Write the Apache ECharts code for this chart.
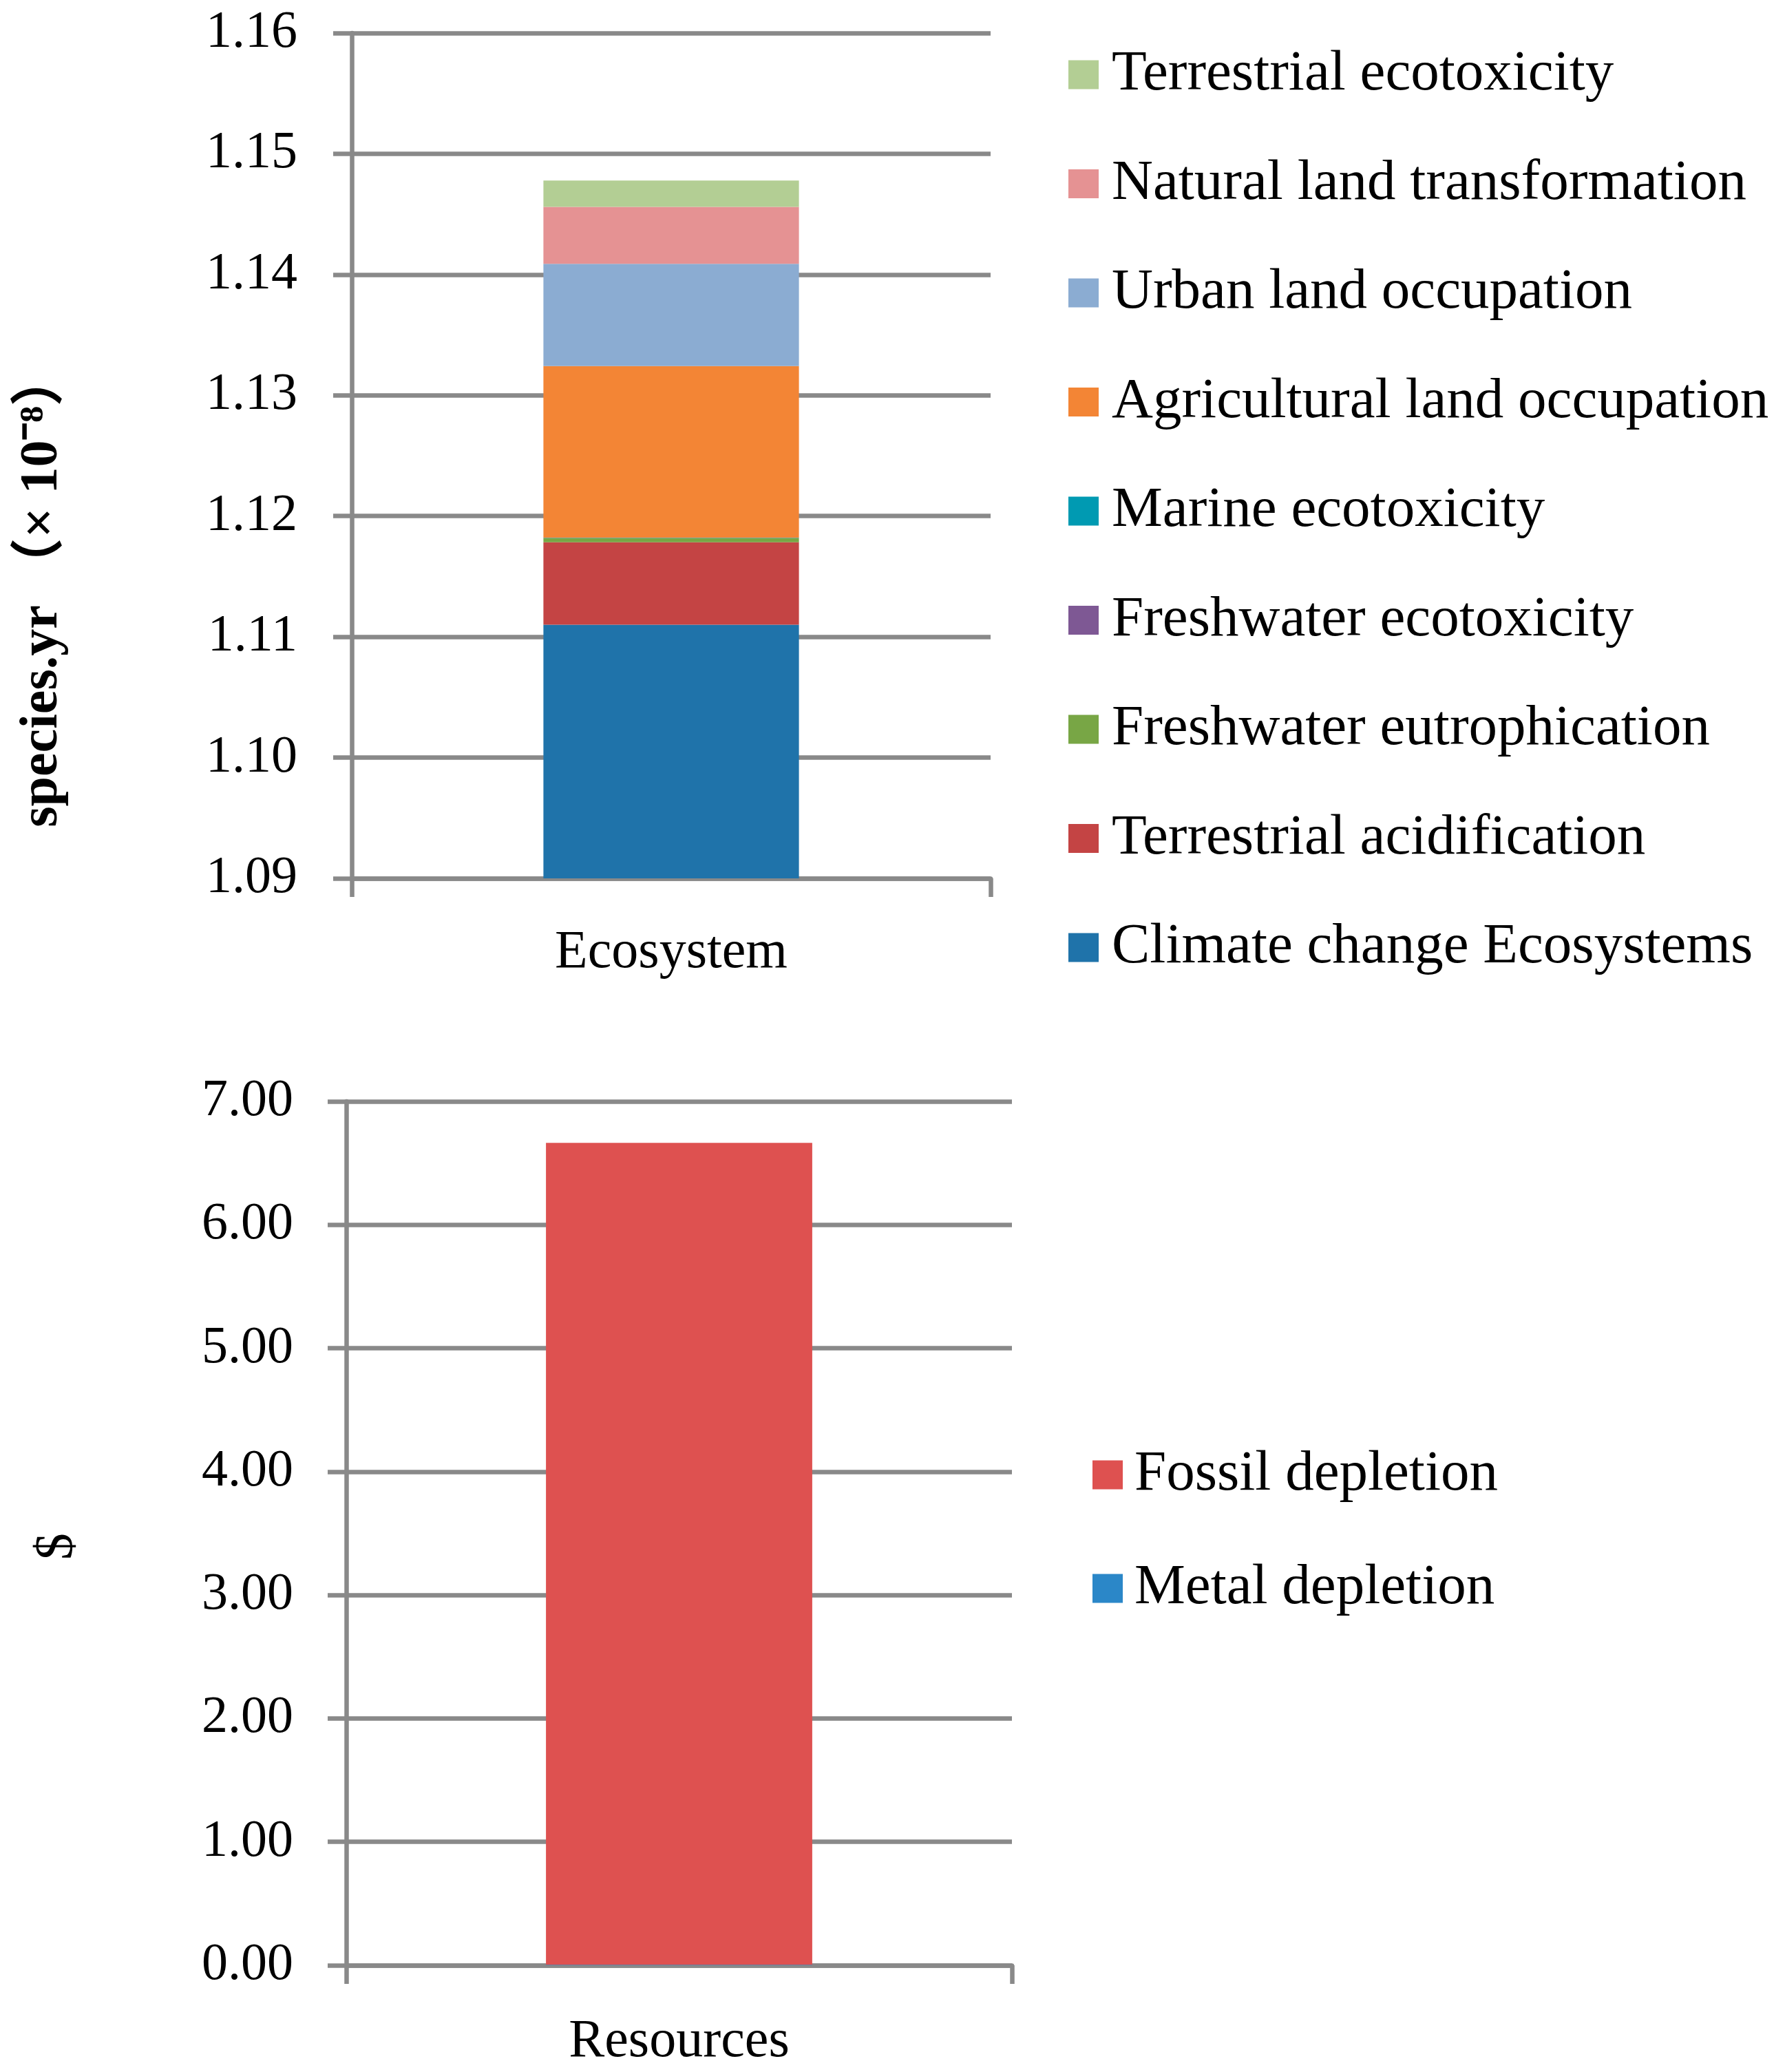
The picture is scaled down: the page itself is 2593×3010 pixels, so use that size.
<!DOCTYPE html>
<html>
<head>
<meta charset="utf-8">
<script src="https://cdn.jsdelivr.net/npm/echarts@6/dist/echarts.min.js"></script>
<style>
html,body{margin:0;padding:0;background:#fff;}
#c{width:2593px;height:3010px;}
</style>
</head>
<body>
<div id="c"></div>
<script>
// ---- Data ----
const ecoCategories = ['Ecosystem'];
const resCategories = ['Resources'];

const ecoSeriesNames = [
  'Climate change Ecosystems',
  'Terrestrial acidification',
  'Freshwater eutrophication',
  'Freshwater ecotoxicity',
  'Marine ecotoxicity',
  'Agricultural land occupation',
  'Urban land occupation',
  'Natural land transformation',
  'Terrestrial ecotoxicity'
];
const ecoValues = [1.1110, 0.00683, 0.00036, 0.00001, 0.00001, 0.01421, 0.00847, 0.00472, 0.00217];
const ecoColors = ['#1F73AA', '#C44444', '#78A645', '#7E5894', '#009AB2', '#F38535', '#8BACD2', '#E59293', '#B3CE94'];

const resSeriesNames = ['Metal depletion', 'Fossil depletion'];
const resValues = [0.004, 6.66];
const resColors = ['#2B87C8', '#DE5150'];

const ecoTicks = {min: 1.09, max: 1.16, interval: 0.01};
const resTicks = {min: 0, max: 7, interval: 1};

// ---- Styles ----
const GRAY = '#898989';
const LW = 6.5;
const tickFont = {fontFamily: '"Liberation Serif", serif', fontSize: 76, color: '#000'};
const legendFont = {fontFamily: '"Liberation Serif", serif', fontSize: 83, color: '#000', padding: [0, 0, 0, 14]};

const chart = echarts.init(document.getElementById('c'), null, {renderer: 'canvas'});

const series = [];
ecoSeriesNames.forEach((n, i) => {
  series.push({
    name: n, type: 'bar', stack: 'eco', xAxisIndex: 0, yAxisIndex: 0,
    barWidth: '40%', itemStyle: {color: ecoColors[i]},
    data: [ecoValues[i]], clip: true
  });
});
resSeriesNames.forEach((n, i) => {
  series.push({
    name: n, type: 'bar', stack: 'res', xAxisIndex: 1, yAxisIndex: 1,
    barWidth: '40%', itemStyle: {color: resColors[i]},
    data: [resValues[i]], clip: true
  });
});

function xAxisDef(idx, cats, margin) {
  return {
    type: 'category', gridIndex: idx, data: cats,
    axisLine: {show: true, lineStyle: {color: GRAY, width: LW}},
    axisTick: {show: true, length: 27, lineStyle: {color: GRAY, width: LW}},
    axisLabel: Object.assign({margin: margin}, tickFont, {fontSize: 78}),
    splitLine: {show: false}
  };
}
function yAxisDef(idx, t, name, gap, margin, namePad, weight, nameSize) {
  return {
    type: 'value', gridIndex: idx, min: t.min, max: t.max, interval: t.interval,
    name: name, nameLocation: 'middle', nameRotate: 90, nameGap: gap,
    nameTextStyle: {fontFamily: '"Liberation Serif", "Noto Sans CJK SC", serif', fontWeight: weight, fontSize: nameSize, color: '#000', padding: namePad},
    axisLine: {show: true, lineStyle: {color: GRAY, width: LW}},
    axisTick: {show: true, length: 27, lineStyle: {color: GRAY, width: LW}},
    axisLabel: Object.assign({margin: margin, formatter: v => v.toFixed(2)}, tickFont),
    splitLine: {show: true, lineStyle: {color: GRAY, width: LW}}
  };
}

chart.setOption({
  animation: false,
  backgroundColor: '#fff',
  grid: [
    {left: 511, top: 48, width: 928, height: 1228, containLabel: false},
    {left: 503, top: 1600, width: 967, height: 1255, containLabel: false}
  ],
  xAxis: [xAxisDef(0, ecoCategories, 70), xAxisDef(1, resCategories, 73)],
  yAxis: [
    yAxisDef(0, ecoTicks, 'species.yr （× 10⁻⁸）', 410, 79, [0, 390, 0, 0], 'bold', 78),
    yAxisDef(1, resTicks, '$', 380, 77, [0, 38, 0, 0], 'normal', 78)
  ],
  legend: [
    {
      orient: 'vertical', left: 1547, top: 62, itemWidth: 44, itemHeight: 42, itemGap: 75.5,
      icon: 'rect', selectedMode: false, textStyle: legendFont,
      data: ecoSeriesNames.slice().reverse()
    },
    {
      orient: 'vertical', left: 1582, top: 2096, itemWidth: 44, itemHeight: 42, itemGap: 82,
      icon: 'rect', selectedMode: false, textStyle: Object.assign({}, legendFont, {padding: [0, 0, 0, 12]}),
      data: resSeriesNames.slice().reverse()
    }
  ],
  series: series
});
</script>
</body>
</html>
